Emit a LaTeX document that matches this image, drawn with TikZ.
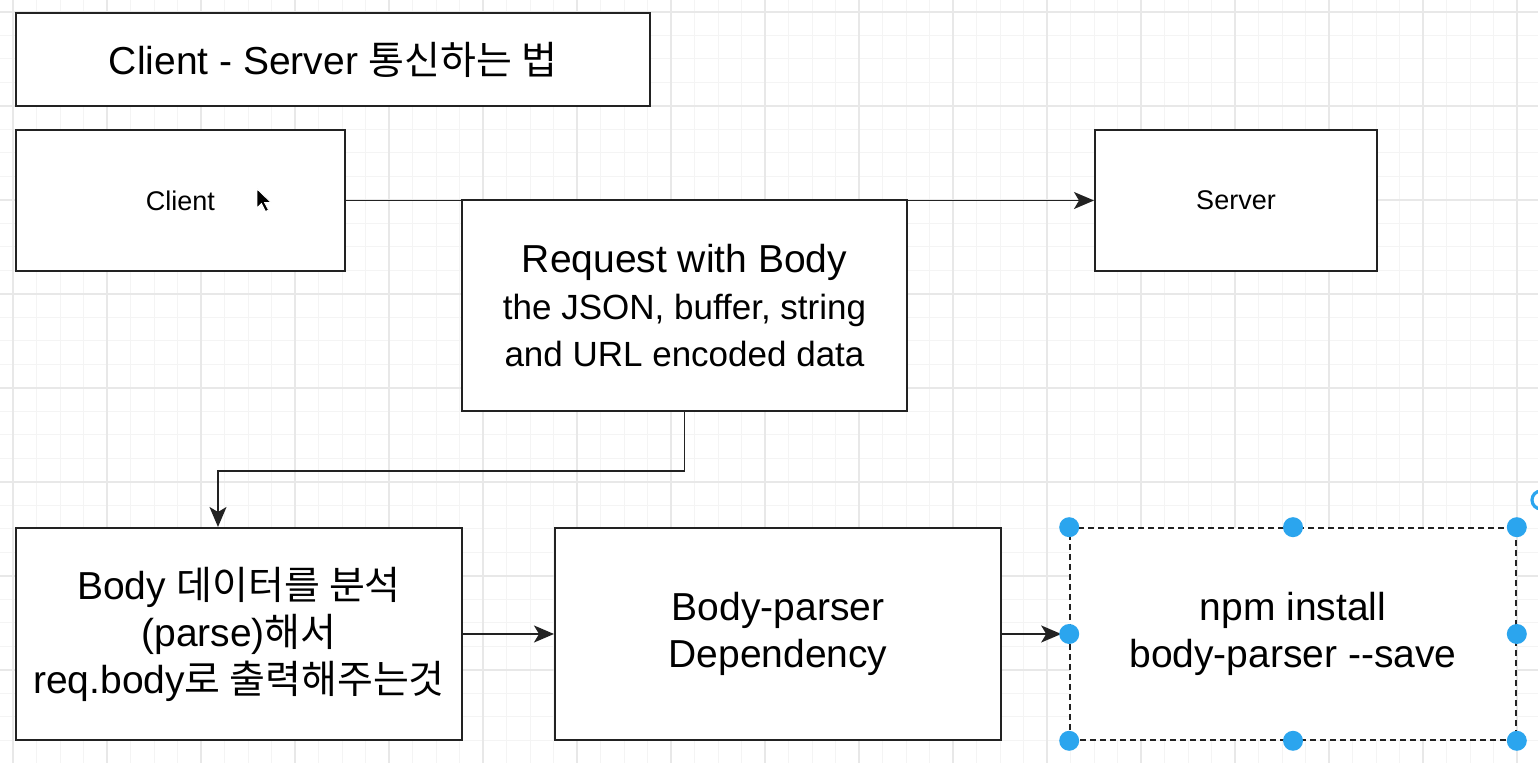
\documentclass[tikz,border=0pt]{standalone}
\usepackage{fontspec}
\setmainfont{Liberation Sans}
\newfontfamily\kr{Noto Sans CJK KR}
\usepackage{tikz}
\usetikzlibrary{arrows.meta}

\definecolor{gridminor}{HTML}{F4F4F4}
\definecolor{gridmajor}{HTML}{E8E8E8}
\definecolor{boxline}{HTML}{222222}
\definecolor{handleblue}{HTML}{2BA5EE}

\newcommand\subfont{\fontsize{17.5}{23.5}\selectfont}

\begin{document}
\begin{tikzpicture}[x=0.5pt,y=-0.5pt,->,>={Stealth[length=10pt,width=8.5pt,inset=2.5pt]},
                    line width=0.8pt,draw=boxline]
  \tikzset{box/.style={draw=boxline,fill=white,rectangle,align=center,inner sep=0pt,
                       line width=1pt,font=\fontsize{19.5}{23.5}\selectfont},
           handle/.style={fill=handleblue,draw=none}}

  \clip (0,0) rectangle (1538,763);
  \fill[white] (0,0) rectangle (1538,763);

  % background grid
  \foreach \i in {-1,...,65}
    \draw[-,gridminor,line width=0.5pt] ({13+23.5*\i},0) -- ++(0,763);
  \foreach \i in {-1,...,32}
    \draw[-,gridminor,line width=0.5pt] (0,{12+23.5*\i}) -- ++(1538,0);
  \foreach \i in {0,...,16}
    \draw[-,gridmajor,line width=0.6pt] ({13+94*\i},0) -- ++(0,763);
  \foreach \i in {0,...,8}
    \draw[-,gridmajor,line width=0.6pt] (0,{12+94*\i}) -- ++(1538,0);

  \node[box,minimum width=317pt,minimum height=46.5pt] (T) at (333,59.5)
    {Client - Server {\kr 통신하는 법}};
  \node[box,minimum width=164.5pt,minimum height=70.5pt,
        font=\fontsize{13.5}{16}\selectfont] (C) at (180.5,200.5) {Client};
  \node[box,minimum width=141pt,minimum height=70.5pt,
        font=\fontsize{13.5}{16}\selectfont] (S) at (1236,200.5) {Server};

  \draw (C.east) -- (S.west);

  \node[box,minimum width=222.5pt,minimum height=105.5pt] (R) at (684.5,305.5)
    {Request with Body\\ \subfont the JSON, buffer, string\\
     \subfont and URL encoded data};
  \node[box,minimum width=223pt,minimum height=106pt] (B) at (239,634)
    {Body {\kr 데이터를 분석}\\ (parse){\kr 해서}\\ req.body{\kr 로 출력해주는것}};
  \node[box,minimum width=223pt,minimum height=106pt] (P) at (778,634)
    {Body-parser\\ Dependency};
  \node[box,dashed,line width=0.8pt,dash pattern=on 3pt off 2pt,
        minimum width=223pt,minimum height=106pt]
    (N) at (1293,634) {npm install\\ body-parser -{}-save};

  \draw (R.south) -- ++(0,59) -| ([xshift=-10.5pt]B.north);
  \draw (B.east) -- (P.west);
  \draw (P.east) -- ([xshift=-4pt]N.west);

  % selection handles
  \foreach \a in {north west,north,north east,west,east,south west,south,south east}
    \fill[handle] (N.\a) circle (5pt);
  \draw[-,handleblue,line width=1.6pt] (1541,500) circle (4.5pt);

  % mouse pointer
  \filldraw[-,fill=black,draw=white,line width=0.4pt]
    (257,189) -- ++(0,19) -- ++(4.5,-4.5) -- ++(4,8) -- ++(3,-1.5) -- ++(-4,-7.5)
    -- ++(6.5,0) -- cycle;

\end{tikzpicture}
\end{document}
